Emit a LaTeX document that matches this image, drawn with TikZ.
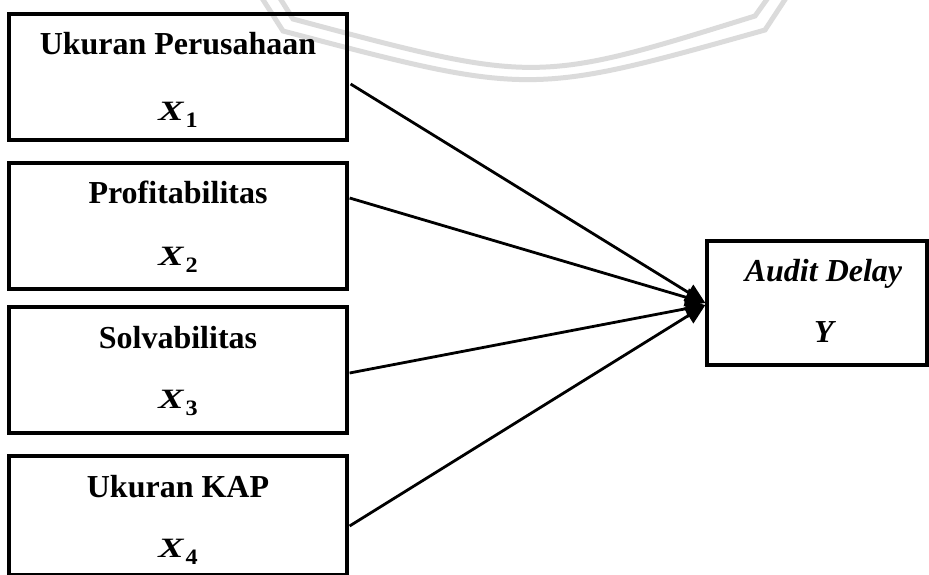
\documentclass[tikz,border=0pt]{standalone}
\usepackage{fontspec}
\setmainfont{Liberation Serif}
\usetikzlibrary{arrows.meta,calc}
\newcommand{\xvar}[1]{{\fontsize{28}{30}\selectfont\bfseries\itshape\scalebox{1.35}[1]{X}}\kern2pt\raisebox{-7pt}{\fontsize{22}{24}\selectfont\bfseries\scalebox{1.1}[1]{#1}}}
\begin{document}
\begin{tikzpicture}[x=1pt,y=-1pt,
  varbox/.style={draw=black,line width=3.2pt,minimum width=338pt,minimum height=126pt,inner sep=0pt},
  title/.style={anchor=base,inner sep=0pt,font=\fontsize{32}{38}\selectfont\bfseries},
  sym/.style={anchor=base,inner sep=0pt},
  link/.style={line width=2.8pt,-{Triangle[length=20pt,width=18pt]}},
  wm/.style={draw=black!14,line width=5pt}]
\useasboundingbox (0,0) rectangle (929,575);
% watermark
\draw[wm] (278,-5) -- (293,19) .. controls (536,84) .. (755,16) -- (770,-5);
\draw[wm] (260,-5) -- (283,31) .. controls (530,96) .. (765,30) -- (788,-5);
% boxes
\node[varbox] (b1) at (178,77) {};
\node[varbox] (b2) at (178,226) {};
\node[varbox] (b3) at (178,370) {};
\node[varbox,minimum height=119pt] (b4) at (178,515.5) {};
\node[varbox,minimum width=220pt,minimum height=124pt] (y) at (817,303) {};
% texts
\node[title] (t1) at (178,55) {Ukuran Perusahaan};
\node[sym] (s1) at (178,121) {\xvar{1}};
\node[title] (t2) at (178,204) {Profitabilitas};
\node[sym] (s2) at (178,265) {\xvar{2}};
\node[title] (t3) at (178,348) {Solvabilitas};
\node[sym] (s3) at (178,408) {\xvar{3}};
\node[title] (t4) at (178,497) {Ukuran KAP};
\node[sym] (s4) at (178,557) {\xvar{4}};
\node[title,font=\fontsize{32}{38}\selectfont\bfseries\itshape] (ty) at (823.5,281) {Audit Delay};
\node[title,font=\fontsize{32}{38}\selectfont\bfseries\itshape] (sy) at (824,342) {Y};
% connectors
\coordinate (tip) at ($(y.west)+(0,0)$);
\draw[link] ($(b1.east)+(2,7)$) -- (tip);
\draw[link] ($(b2.east)+(1,-28)$) -- (tip);
\draw[link] ($(b3.east)+(1,3)$) -- ($(tip)+(0,2)$);
\draw[link] ($(b4.east)+(1,10.5)$) -- ($(tip)+(0,2)$);
\end{tikzpicture}
\end{document}
